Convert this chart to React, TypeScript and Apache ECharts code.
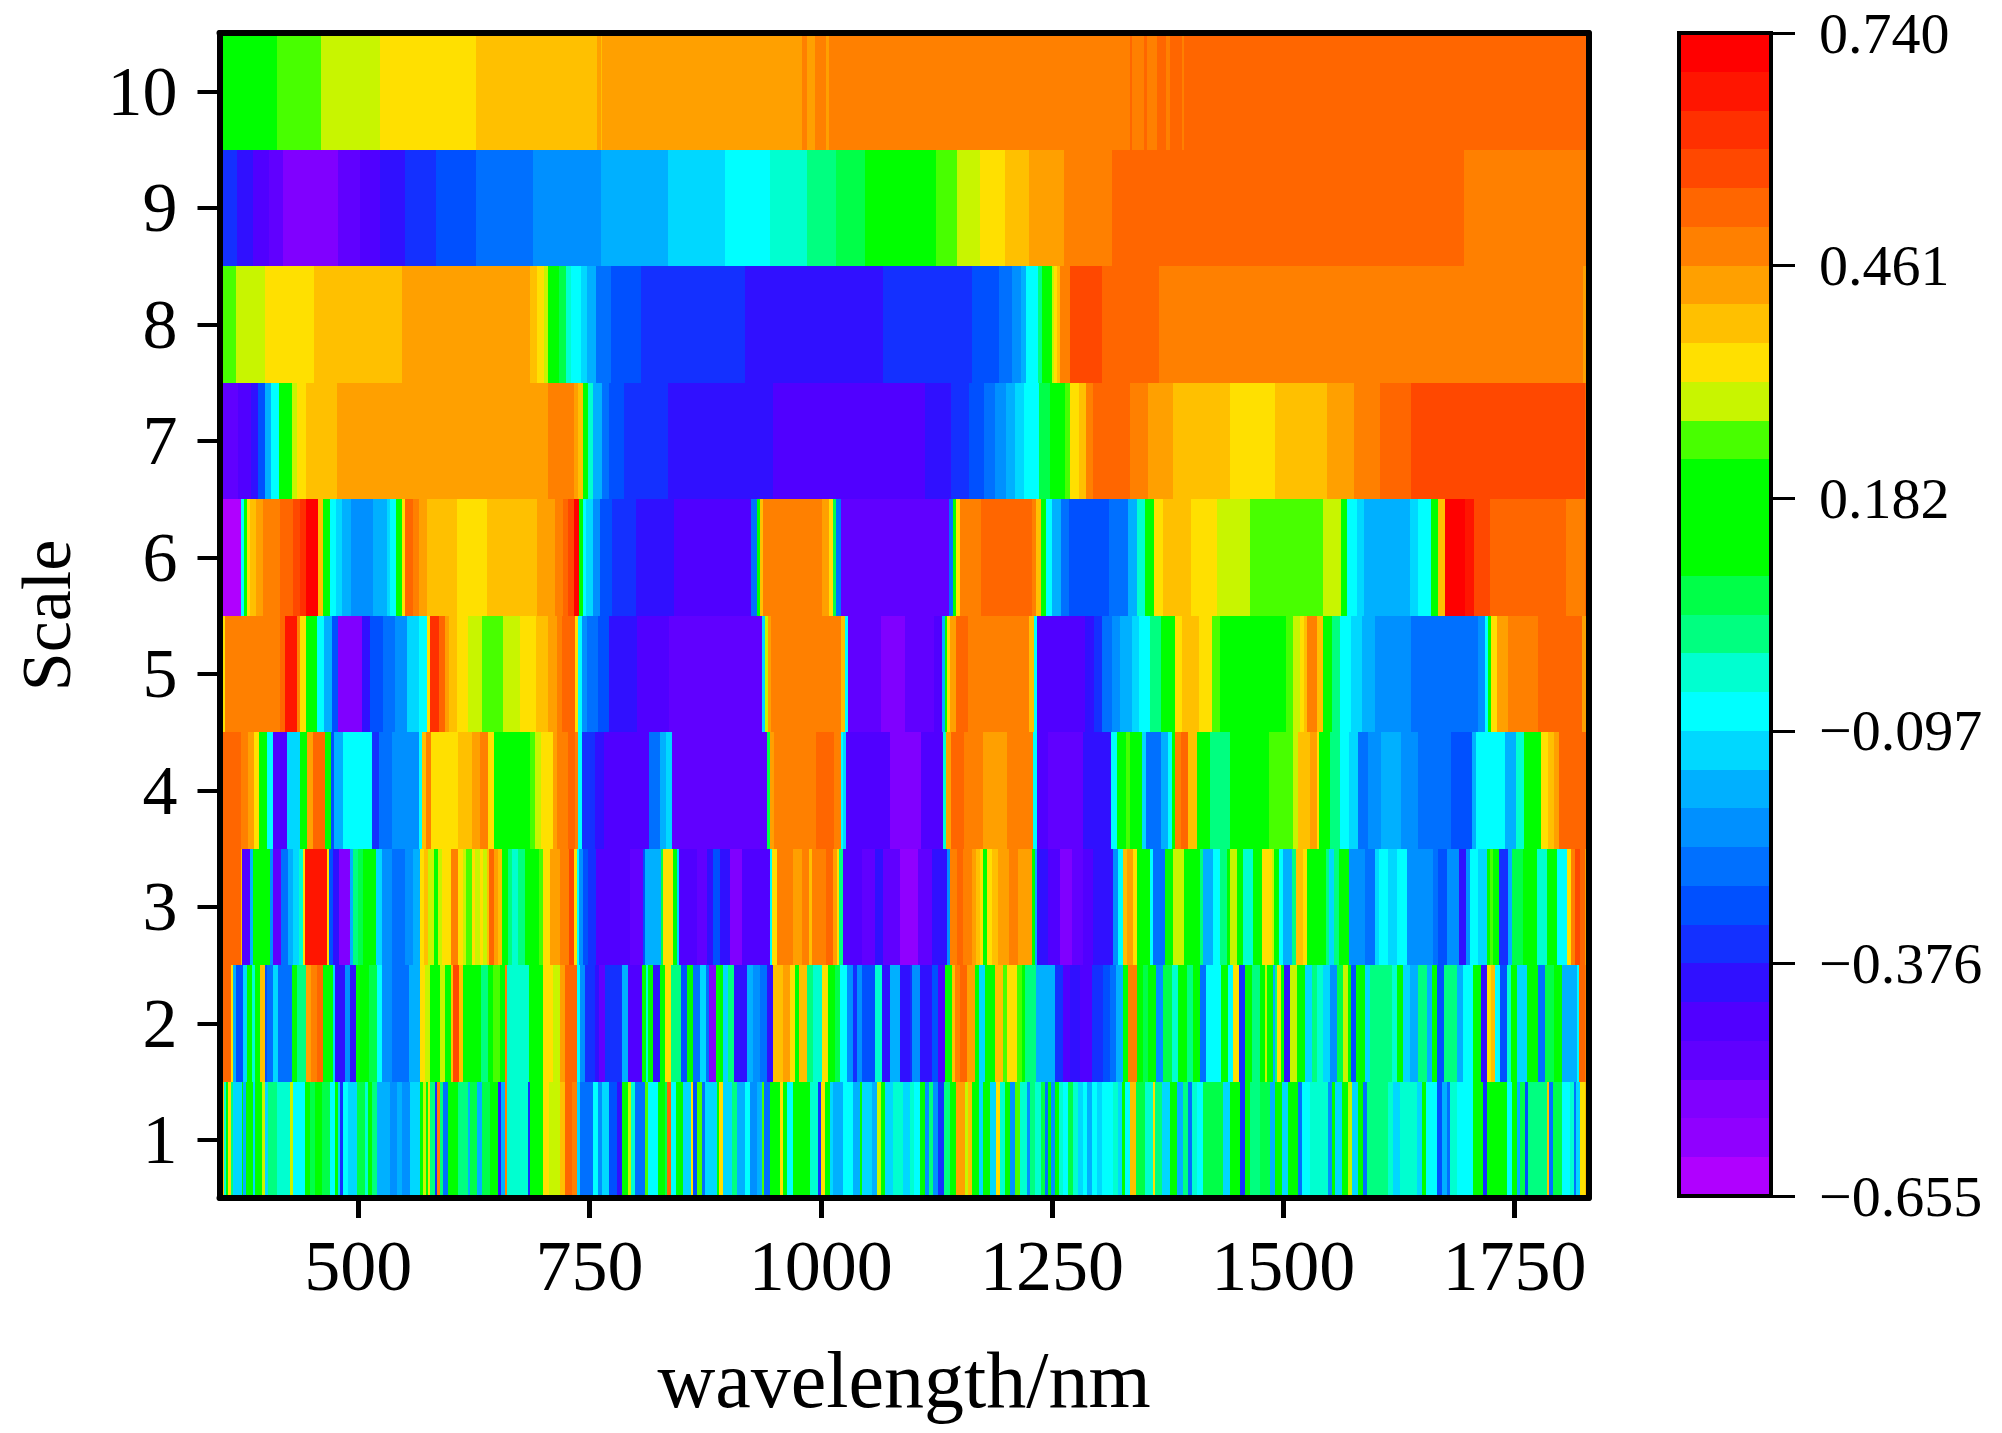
import React, { useEffect, useRef } from "react";
import * as echarts from "echarts";

const colorLevels = [
  "#b000ff", "#9000ff", "#8000ff", "#6000ff", "#5000ff", "#3010ff", "#1430ff", "#0050ff", "#0070ff", "#0090ff",
  "#00b0ff", "#00d8ff", "#00ffff", "#00ffd0", "#00ff80", "#00ff48", "#00ff00", "#00ff00", "#00ff00", "#48ff00",
  "#c8f500", "#ffe000", "#ffc000", "#ffa000", "#ff8000", "#ff6600", "#ff4800", "#ff3000", "#ff1500", "#ff0000",
];
const colorbarTicks = [-0.655, -0.376, -0.097, 0.182, 0.461, 0.74];
const wavelengthTicks = [500, 750, 1000, 1250, 1500, 1750];
const scaleTicks = [1, 2, 3, 4, 5, 6, 7, 8, 9, 10];

// each row: [end wavelength, colour level] runs, starting at 350 nm
const scale10 = [[412,17],[460,19],[524,20],[529,21],[627,21],[758,22],[762,23],[764,22],[767,23],[980,23],[985,24],[994,23],[1005.5,24],[1008.4,23],[1334,24],[1337,25],[1349,24],[1353,25],[1363,24],[1373,25],[1378,24],[1390,25],[1393,24],[1830,25]];
const scale9 = [[369,6],[386,5],[404,4],[419,3],[478,2],[502,3],[524,4],[550,5],[584,6],[627,7],[689,8],[762,9],[835,10],[897,11],[945,12],[985,13],[1017,14],[1048,15],[1125,17],[1147.5,19],[1172,20],[1199,21],[1225,22],[1263,23],[1314.5,24],[1695,25],[1830,24]];
const scale8 = [[368,19],[399.4,20],[452,21],[547.5,22],[685.5,23],[693,22],[700.5,21],[705.3,20],[717.4,16],[724.6,15],[729.5,13],[740.5,12],[747.8,11],[757.5,10],[773.4,8],[805.7,7],[918,6],[1067,5],[1163,6],[1193,7],[1207,8],[1217,9],[1222,10],[1235,12],[1239,14],[1250,16],[1252,20],[1255.6,21],[1258.5,22],[1269,24],[1304,26],[1365.6,25],[1824,24],[1830,23]];
const scale7 = [[370,3],[384.4,4],[391.6,5],[399,7],[406,10],[414.8,12],[423,16],[428,18],[434,20],[443,21],[477.5,22],[704.8,23],[733.3,24],[738,23],[743,22],[748.8,16],[753.6,13],[763,10],[771.4,8],[787.4,7],[834.7,6],[948,5],[1113,4],[1141,5],[1160.5,6],[1176,7],[1188.5,8],[1200,9],[1210,10],[1220,11],[1236,12],[1248,15],[1264,16],[1269,19],[1279,21],[1287,22],[1294,24],[1334,25],[1354,24],[1381,23],[1442,22],[1491,21],[1547,22],[1577,23],[1604.5,24],[1638,25],[1826.5,26],[1830,25]];
const scale6 = [[373.3,0],[376,12],[379.6,17],[383,21],[389,22],[397,23],[415.8,24],[429,25],[437.5,26],[443,27],[456.8,29],[461.6,22],[469,16],[476,12],[482.4,11],[492,10],[516,9],[530.6,10],[534,11],[541,12],[547,16],[550,21],[559.6,25],[565.4,24],[574,23],[606.4,22],[639,21],[693,22],[712.6,23],[721,24],[727,25],[733.3,26],[739,29],[742.5,18],[746.4,12],[753.6,11],[761,9],[773.9,7],[800.4,6],[841.4,5],[925,4],[931,8],[934.6,16],[938,22],[1001,24],[1008.4,23],[1013,21],[1016.6,15],[1022,8],[1138.8,3],[1142.6,8],[1146,16],[1151,21],[1173,24],[1228,25],[1233,24],[1237.7,22],[1244,16],[1250,12],[1259.4,10],[1268,8],[1311.6,7],[1332,8],[1341.5,10],[1350,13],[1360.8,16],[1369.5,21],[1400,22],[1428,21],[1464,20],[1542.7,19],[1562,20],[1569,17],[1580,12],[1587.6,11],[1637,10],[1645.5,11],[1660,12],[1667,16],[1675.4,22],[1696,29],[1706,28],[1724,26],[1806,25],[1826,24],[1830,25]];
const scale5 = [[353,12],[356.4,21],[415.8,24],[420.6,25],[433.6,28],[437,24],[443,21],[455.3,16],[463,12],[471.3,10],[478.5,7],[503.6,2],[512.3,5],[526.8,7],[539.3,8],[552.3,9],[565.4,11],[574,12],[578,21],[587,27],[593.4,25],[597.7,23],[606.4,22],[618.5,21],[634,20],[656.6,19],[675.4,20],[691.8,21],[705.3,22],[715,23],[720.8,24],[734.3,25],[737.2,21],[741.5,12],[747.8,9],[759.4,8],[771.4,7],[801.8,5],[835.6,4],[936,3],[939.4,11],[942.8,20],[946.6,23],[1022,24],[1026.3,22],[1029.6,12],[1065,3],[1091.5,2],[1122,3],[1131.5,4],[1134,10],[1136.4,16],[1140,21],[1146,23],[1159,25],[1224.7,24],[1230.5,22],[1233.4,12],[1286,4],[1295.6,5],[1304,6],[1315.4,8],[1324,9],[1336.6,10],[1344,11],[1356,12],[1368,14],[1382.5,16],[1390.7,21],[1409,22],[1423,21],[1431.7,19],[1503,17],[1510,19],[1517.6,20],[1522.4,21],[1526,22],[1537,24],[1542.7,22],[1552.4,17],[1561,14],[1573,12],[1585,11],[1599.7,10],[1638,9],[1710.7,8],[1718,9],[1721,12],[1725,16],[1731,21],[1743.5,23],[1775,24],[1823,25],[1830,23]];
const scale4 = [[373.3,25],[381,24],[386.8,23],[392.6,21],[401.3,17],[407.6,12],[423,4],[437.5,11],[444.7,17],[451,23],[464,25],[470.3,18],[473.7,7],[483.3,10],[514.7,12],[522,6],[536.4,8],[565.4,9],[568.8,12],[573.6,22],[578.4,24],[607.8,21],[623.3,22],[631.5,23],[640,24],[646.5,21],[686,17],[690.8,19],[698,20],[710,21],[715,23],[727,24],[734.3,25],[738,24],[741.5,12],[756,6],[765.7,5],[814,4],[826,8],[833.2,10],[839.5,11],[941.8,3],[945.6,15],[949,23],[994.9,24],[1014.2,25],[1021.4,24],[1023.8,12],[1027.7,11],[1074.5,4],[1108.4,2],[1132.5,4],[1135.4,13],[1141,23],[1154.7,25],[1175.5,24],[1201.5,23],[1229.5,24],[1233.4,12],[1246,4],[1283.6,3],[1313.5,5],[1319.8,12],[1330.4,16],[1334,19],[1347.7,17],[1352,11],[1367.5,8],[1375,10],[1380,12],[1383.5,16],[1389.7,24],[1397,25],[1406.6,22],[1421,16],[1442.3,14],[1484.8,17],[1510.4,19],[1516,20],[1528.7,22],[1536,23],[1538.4,21],[1550,17],[1561,14],[1570.7,12],[1580.4,11],[1591.4,8],[1606,9],[1627,10],[1645.5,9],[1681.2,8],[1704.4,7],[1708,10],[1739.6,12],[1751.7,10],[1760,13],[1779,17],[1786.4,21],[1792.7,22],[1798,23],[1830,25]];
const scale3 = [[372.9,25],[374.7,22],[383,4],[386.5,10],[404.6,17],[408,9],[417,3],[424.4,8],[429.8,10],[436.3,11],[439.9,13],[442.4,21],[465.8,28],[468.7,21],[472.3,7],[479.5,5],[491,2],[494.7,10],[500,14],[505.5,15],[518.8,17],[525.3,11],[536,9],[550.5,8],[559.5,9],[566.7,10],[571,21],[575.8,22],[581.9,20],[586.2,17],[590.9,20],[599.9,21],[608.2,24],[613.6,21],[616.5,20],[622.6,19],[626.2,21],[631.6,20],[635.2,21],[638.8,20],[641.7,22],[646.8,25],[651.4,23],[655,22],[662.3,17],[665.9,14],[673,13],[680.3,14],[695.8,17],[699.4,19],[707.3,21],[718.1,23],[728.2,24],[733.2,26],[736.1,21],[739,12],[743.3,9],[748.7,7],[757,6],[793.8,4],[807.5,3],[810,7],[827.3,10],[829.8,15],[840.6,21],[844.2,16],[847.1,11],[865.9,4],[876.7,3],[883.9,5],[891.1,7],[901.9,5],[914.5,2],[945.2,4],[947.7,12],[952.4,21],[970.4,24],[980.1,23],[987.7,24],[990.2,22],[1005.3,24],[1013.6,25],[1017.2,23],[1020.1,21],[1024.4,14],[1044.3,4],[1058.7,3],[1067.7,5],[1085.7,3],[1105.5,1],[1119.9,3],[1136.1,5],[1139.7,9],[1147,24],[1154.2,25],[1163.2,24],[1167.5,23],[1172.2,22],[1175.8,21],[1180.1,18],[1185.5,21],[1191.3,22],[1203.5,23],[1212.9,24],[1228,23],[1231.6,16],[1234.2,10],[1245.3,5],[1258.7,4],[1272,2],[1283.9,3],[1294.7,4],[1316.3,5],[1321.8,9],[1326.4,12],[1330.8,22],[1338,23],[1342.3,21],[1356,17],[1359.6,12],[1372.2,8],[1381.2,16],[1392.8,20],[1410,17],[1413.7,14],[1424.5,10],[1431.7,12],[1438.9,14],[1442.5,17],[1449.7,20],[1456.9,16],[1467.7,13],[1476.7,17],[1487.5,21],[1490,20],[1495.8,17],[1499.4,12],[1509.1,10],[1513.8,14],[1521.8,22],[1525.4,21],[1545.9,17],[1549.5,14],[1554.9,11],[1560.7,14],[1571.5,17],[1588.4,9],[1599.2,8],[1603.9,11],[1613.6,12],[1622.7,11],[1633.5,12],[1662.3,9],[1667.7,8],[1676.7,7],[1690,9],[1697.6,5],[1702,9],[1711,12],[1720,11],[1723.6,16],[1727.2,19],[1733.7,16],[1743.4,6],[1747,10],[1759.6,15],[1774,17],[1784.8,13],[1795.6,17],[1806.5,12],[1811.1,21],[1815.5,24],[1820.9,26],[1826.3,25],[1830,23]];
const scale2 = [[362.4,25],[364.2,21],[367.8,10],[375.7,7],[380,11],[384.7,16],[388.4,13],[393.8,16],[399.2,22],[401.7,7],[407.5,8],[412.9,11],[428,8],[434.1,17],[443.5,14],[448.5,23],[455.7,24],[462.2,25],[473,16],[474.9,11],[485.7,5],[491,9],[497.6,5],[512,17],[519.9,15],[525.3,12],[536.1,9],[555.2,8],[566.7,10],[572.2,21],[577.6,20],[588.4,17],[593.8,20],[599.9,17],[602,22],[609.3,26],[612.9,22],[632.4,17],[640.6,14],[645.3,17],[653.2,19],[658.6,17],[660.5,24],[685,13],[699.4,17],[710.9,21],[718.1,20],[723.5,23],[736.1,25],[739.7,12],[745.1,9],[755.9,6],[760.6,5],[766.8,3],[784.8,6],[792,10],[806.4,4],[811.1,16],[813.6,13],[819,17],[826.2,5],[831.6,16],[838.1,21],[848.9,14],[855,7],[862.3,16],[869.5,8],[875.6,11],[879.2,8],[886.4,2],[894.7,17],[900.1,11],[906.6,14],[919.9,5],[927.1,10],[934.3,9],[941.5,8],[948.8,5],[959.6,22],[966.8,23],[972.2,21],[976.5,16],[984.8,22],[992,14],[1001,13],[1008.2,21],[1015.4,16],[1020.8,15],[1028,12],[1034.5,9],[1038.9,6],[1044.3,9],[1058.7,7],[1065.9,13],[1074.9,5],[1085.7,10],[1096.5,5],[1098.3,6],[1107.3,9],[1119.9,5],[1127.1,7],[1134.3,4],[1141.6,17],[1145.2,22],[1150.6,24],[1157.8,25],[1166.8,23],[1171.1,17],[1177.6,11],[1188.4,17],[1196.7,22],[1201,19],[1211.8,21],[1217.2,19],[1220.8,17],[1232.7,14],[1253.3,10],[1262.3,6],[1269.5,4],[1280.3,5],[1292.9,4],[1305.5,6],[1312.7,7],[1319.2,8],[1327.2,10],[1332.6,17],[1342.3,24],[1348.8,17],[1354.2,15],[1362.5,17],[1370.4,9],[1379.4,15],[1386.6,13],[1395.6,17],[1402.8,14],[1410,17],[1416.5,8],[1432.4,12],[1440,17],[1445.4,12],[1452.6,21],[1458.7,6],[1465.9,16],[1474.9,14],[1480.3,17],[1482.8,20],[1488.6,17],[1491.1,10],[1493.6,14],[1497.2,21],[1500.8,17],[1507.3,5],[1514.5,20],[1523.6,17],[1530.8,11],[1536.9,14],[1543.4,13],[1550.6,11],[1557.8,9],[1565,15],[1570.4,20],[1572.9,17],[1578.7,7],[1588.4,16],[1593.8,11],[1617.3,14],[1623.4,13],[1629.9,16],[1637.1,11],[1646.1,10],[1655.1,14],[1660.5,10],[1665.9,17],[1673.8,7],[1687.5,14],[1694,10],[1704.8,12],[1713.8,17],[1720.7,5],[1724.3,21],[1729,22],[1734.4,12],[1742.3,7],[1745.9,13],[1752.4,16],[1763.2,11],[1775.8,17],[1783,8],[1792.8,15],[1801,16],[1817.3,10],[1820.2,12],[1826.3,25],[1830,24]];
const scale1 = [[354.8,22],[357,13],[359.5,17],[362,21],[364.2,14],[373.9,11],[375.7,17],[378.6,10],[385.8,17],[388.4,11],[395.6,17],[399.2,20],[402.8,11],[411.8,14],[426.2,13],[429.8,20],[442.4,12],[447.8,17],[453.2,15],[460.4,17],[469.4,15],[474.9,12],[478.5,17],[480.3,11],[483.9,6],[489.3,12],[498.3,11],[507.3,15],[510.9,13],[514.5,17],[519.9,14],[534.3,10],[541.5,9],[546.9,10],[555.9,9],[566.7,11],[570.4,17],[573.2,20],[575.8,17],[577.6,21],[583,14],[585.5,6],[588.4,24],[592,14],[597.4,8],[608.2,17],[619,14],[620.8,10],[628,15],[633.4,10],[642.4,15],[651.4,17],[654,5],[658.6,10],[660.5,24],[683.9,13],[685.7,6],[699.4,17],[706.6,21],[718.1,20],[723.5,22],[730.7,25],[736.1,24],[739.7,11],[754.1,8],[759.5,12],[763.2,9],[771.4,11],[779.4,7],[784.8,5],[792,16],[794.5,20],[799.2,13],[810,8],[813.6,19],[824.4,12],[831.6,17],[834.1,15],[837.8,25],[843.5,12],[851.4,17],[859.7,11],[862.3,21],[866.6,7],[871.3,19],[874.9,8],[887.5,11],[890.4,17],[894.7,21],[903.7,11],[909.1,14],[918.1,10],[923.5,12],[930.7,9],[936.1,10],[938.7,19],[945.2,8],[956,17],[959.6,21],[963.2,16],[970.4,12],[977.6,16],[988.4,17],[997.4,13],[1000.3,6],[1004.6,21],[1010,16],[1013.6,11],[1024.4,10],[1035.3,12],[1042.5,10],[1044.3,18],[1055.1,11],[1060.5,10],[1065.2,20],[1069.5,16],[1078.5,11],[1089.3,13],[1096.5,11],[1100.8,13],[1107.3,12],[1112.7,16],[1117.4,9],[1121.7,14],[1127.1,9],[1133.6,6],[1139.7,14],[1146.2,16],[1156,23],[1159.6,20],[1163.9,22],[1171.5,17],[1175.8,11],[1183,16],[1189.5,11],[1193.8,21],[1199.2,13],[1204.6,17],[1210,9],[1215.4,19],[1222.6,13],[1226.2,9],[1231.7,14],[1237.8,13],[1242.5,15],[1246,8],[1248.9,16],[1253.3,9],[1257.6,16],[1262.3,13],[1267.7,12],[1273.1,15],[1278.5,13],[1283.9,11],[1287.5,12],[1292.9,10],[1298.3,12],[1303.7,11],[1309.1,12],[1316.3,12],[1321.8,13],[1325.3,11],[1329,16],[1334.4,12],[1340.9,22],[1350.6,15],[1358.9,13],[1361.4,21],[1368.6,14],[1377.6,11],[1384.8,16],[1392,10],[1397.4,14],[1401,8],[1406.4,13],[1413.7,12],[1435.3,15],[1442.5,11],[1453.3,16],[1458.7,6],[1464.1,17],[1474.9,14],[1485.7,15],[1491.1,10],[1498.3,17],[1505.5,11],[1512.7,17],[1516.3,16],[1520,8],[1529,12],[1548.8,13],[1552.4,9],[1556,16],[1563.2,11],[1570.4,17],[1574,20],[1581.2,11],[1586.6,17],[1590.2,8],[1613.6,14],[1619,13],[1626.3,11],[1644.3,13],[1649.7,11],[1654,17],[1665.9,12],[1671.3,7],[1676.7,10],[1680.3,8],[1687.5,13],[1705.6,12],[1715.6,17],[1720,6],[1741.6,16],[1747,12],[1752.4,17],[1756,10],[1761.4,15],[1765,7],[1784.8,14],[1787,22],[1792,8],[1801,15],[1810.1,12],[1814,13],[1816.5,8],[1820.9,11],[1826.3,21],[1830,22]];

const rows = [scale1, scale2, scale3, scale4, scale5, scale6, scale7, scale8, scale9, scale10];
const X_MIN = 350;
const X_MAX = 1830;
const BAR_MIN = -0.655;
const BAR_MAX = 0.74;
const LEVEL_STEP = (BAR_MAX - BAR_MIN) / colorLevels.length;
const FONT = "'Liberation Serif', 'Times New Roman', serif";

export default function App() {
  const ref = useRef<HTMLDivElement>(null);
  useEffect(() => {
    const chart = echarts.init(ref.current!, null, { renderer: "svg" });

    const cells: number[][] = [];
    rows.forEach((runs, r) => {
      let start = X_MIN;
      runs.forEach(([end, level]) => {
        cells.push([start, end, r + 1, level]);
        start = end;
      });
    });
    const barCells = colorLevels.map((_, i) => [BAR_MIN + i * LEVEL_STEP, BAR_MIN + (i + 1) * LEVEL_STEP, i]);

    const heatItem = (params: any, api: any) => {
      const a = api.coord([api.value(0), api.value(2) + 0.5]);
      const b = api.coord([api.value(1), api.value(2) - 0.5]);
      const x = Math.round(a[0]);
      const y = Math.round(a[1]);
      return {
        type: "rect",
        shape: { x, y, width: Math.round(b[0]) - x, height: Math.round(b[1]) - y },
        style: { fill: colorLevels[api.value(3)] },
      };
    };
    const barItem = (params: any, api: any) => {
      const a = api.coord([0, api.value(1)]);
      const b = api.coord([1, api.value(0)]);
      const x = Math.round(a[0]);
      const y = Math.round(a[1]);
      return {
        type: "rect",
        shape: { x, y, width: Math.round(b[0]) - x, height: Math.round(b[1]) - y },
        style: { fill: colorLevels[api.value(2)] },
      };
    };

    const frameAxis = {
      z: 10,
      axisLine: { show: true, onZero: false, lineStyle: { color: "#000", width: 6 } },
      splitLine: { show: false },
    };

    chart.setOption({
      animation: false,
      backgroundColor: "#fff",
      textStyle: { fontFamily: FONT },
      grid: [
        { left: 219.5, top: 33, width: 1369, height: 1165, containLabel: false, outerBoundsMode: "none" },
        { left: 1679, top: 33, width: 92, height: 1163, containLabel: false, outerBoundsMode: "none" },
      ],
      xAxis: [
        {
          ...frameAxis,
          type: "value",
          gridIndex: 0,
          position: "bottom",
          min: X_MIN,
          max: X_MAX,
          name: "wavelength/nm",
          nameLocation: "middle",
          nameGap: 142,
          nameTextStyle: { fontFamily: FONT, fontSize: 80, color: "#000" },
          axisTick: { show: true, inside: false, length: 20, customValues: wavelengthTicks, lineStyle: { color: "#000", width: 5 } },
          axisLabel: { show: true, customValues: wavelengthTicks, margin: 32, fontFamily: FONT, fontSize: 72, color: "#000", formatter: (v: number) => String(v) },
        },
        { ...frameAxis, type: "value", gridIndex: 0, position: "top", min: X_MIN, max: X_MAX, axisTick: { show: false }, axisLabel: { show: false } },
        { type: "value", gridIndex: 1, min: 0, max: 1, show: false },
      ],
      yAxis: [
        {
          ...frameAxis,
          type: "value",
          gridIndex: 0,
          position: "left",
          min: 0.5,
          max: 10.5,
          name: "Scale",
          nameLocation: "middle",
          nameGap: 145,
          nameTextStyle: { fontFamily: FONT, fontSize: 70, lineHeight: 56, color: "#000" },
          axisTick: { show: true, inside: false, length: 22, customValues: scaleTicks, lineStyle: { color: "#000", width: 4 } },
          axisLabel: { show: true, customValues: scaleTicks, margin: 42, fontFamily: FONT, fontSize: 70, color: "#000", formatter: (v: number) => String(v) },
        },
        { ...frameAxis, type: "value", gridIndex: 0, position: "right", min: 0.5, max: 10.5, axisTick: { show: false }, axisLabel: { show: false } },
        {
          type: "value",
          gridIndex: 1,
          position: "right",
          min: BAR_MIN,
          max: BAR_MAX,
          splitLine: { show: false },
          axisLine: { show: true, onZero: false, lineStyle: { color: "#000", width: 3 } },
          axisTick: { show: true, length: 24, customValues: colorbarTicks, lineStyle: { color: "#000", width: 3 } },
          axisLabel: {
            show: true,
            customValues: colorbarTicks,
            margin: 48,
            fontFamily: FONT,
            fontSize: 58,
            lineHeight: 50,
            color: "#000",
            formatter: (v: number) => (v < 0 ? "\u2212" + Math.abs(v).toFixed(3) : v.toFixed(3)),
          },
        },
      ],
      series: [
        {
          type: "custom",
          xAxisIndex: 0,
          yAxisIndex: 0,
          renderItem: heatItem,
          encode: { x: [0, 1], y: 2 },
          data: cells,
          clip: true,
          silent: true,
        },
        {
          type: "custom",
          xAxisIndex: 2,
          yAxisIndex: 2,
          renderItem: barItem,
          encode: { y: [0, 1] },
          data: barCells,
          clip: true,
          silent: true,
        },
      ],
      graphic: [
        {
          type: "rect",
          z: 100,
          silent: true,
          shape: { x: 1679, y: 33, width: 92, height: 1163 },
          style: { fill: "none", stroke: "#000", lineWidth: 4 },
        },
      ],
    });
    return () => chart.dispose();
  }, []);
  return <div ref={ref} style={{ position: "fixed", left: 0, top: 0, width: 2002, height: 1433 }} />;
}
